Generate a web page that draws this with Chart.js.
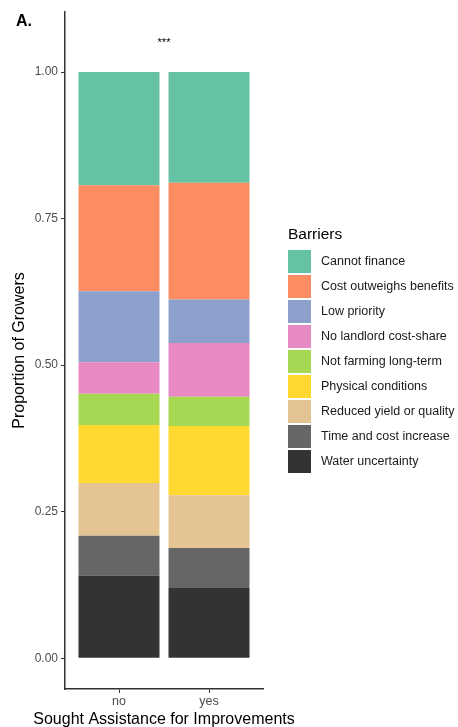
<!DOCTYPE html>
<html>
<head>
<meta charset="utf-8">
<script src="https://cdn.jsdelivr.net/npm/chart.js@4.4.1/dist/chart.umd.min.js"></script>
<style>
  html, body { margin: 0; padding: 0; background: #fff; }
  #wrap { width: 458px; height: 727px; }
</style>
</head>
<body>
<div id="wrap"><canvas id="barriersChart"></canvas></div>
<script>
// categories on the x axis
const groups = ['no', 'yes'];
const xTitle = 'Sought Assistance for Improvements';

// barriers, top of the stack first (legend order)
const barriers = [
    'Cannot finance',
    'Cost outweighs benefits',
    'Low priority',
    'No landlord cost-share',
    'Not farming long-term',
    'Physical conditions',
    'Reduced yield or quality',
    'Time and cost increase',
    'Water uncertainty'
];

// proportion of growers per barrier, for "no" and "yes"
const propNo  = [0.193, 0.181, 0.121, 0.054, 0.053, 0.099, 0.090, 0.068, 0.141];
const propYes = [0.189, 0.199, 0.074, 0.092, 0.050, 0.118, 0.090, 0.068, 0.120];

const barrierColors = ['#66C2A5', '#FC8D62', '#8DA0CB', '#E78AC3', '#A6D854',
                       '#FFD92F', '#E5C494', '#666666', '#333333'];

const yTicks = [0, 0.25, 0.50, 0.75, 1.00];
const signif = { label: '***', x: 1.5, y: 1.05 };

const FONT = '"Liberation Sans", Arial, sans-serif';

// stack bottom-up: last barrier sits at the bottom
const datasets = barriers.map((name, i) => ({
    label: name,
    data: [{ x: 1, y: propNo[i] }, { x: 2, y: propYes[i] }],
    backgroundColor: barrierColors[i],
    borderWidth: 0
})).reverse();

// "A." tag, x title (not clipped to the axis width), stars and the legend
const extras = {
    id: 'extras',
    afterDraw(chart) {
        const ctx = chart.ctx;
        const xs = chart.scales.x, ys = chart.scales.y;
        ctx.save();

        ctx.fillStyle = '#000';
        ctx.font = 'bold 16px ' + FONT;
        ctx.textAlign = 'left';
        ctx.textBaseline = 'middle';
        ctx.fillText('A.', 16, 22);

        ctx.textAlign = 'center';
        ctx.font = '16px ' + FONT;
        ctx.fillText(xTitle, (xs.left + xs.right) / 2, 720);

        ctx.font = '11px ' + FONT;
        ctx.fillText(signif.label, xs.getPixelForValue(signif.x), ys.getPixelForValue(signif.y));

        // legend
        const lx = 288, ly = 250, box = 23, step = 25;
        ctx.textAlign = 'left';
        ctx.fillStyle = '#000';
        ctx.font = '15.5px ' + FONT;
        ctx.fillText('Barriers', lx, 235);
        ctx.font = '12.5px ' + FONT;
        barriers.forEach((name, i) => {
            const y = ly + i * step;
            ctx.fillStyle = barrierColors[i];
            ctx.fillRect(lx, y, box, box);
            ctx.fillStyle = '#1a1a1a';
            ctx.fillText(name, lx + 33, y + box / 2);
        });
        ctx.restore();
    }
};

new Chart(document.getElementById('barriersChart'), {
    type: 'bar',
    data: { datasets },
    options: {
        responsive: true,
        maintainAspectRatio: false,
        animation: false,
        layout: { padding: { top: 12, right: 195, bottom: 0, left: 0 } },
        datasets: { bar: { categoryPercentage: 0.9, barPercentage: 1 } },
        plugins: { legend: { display: false }, tooltip: { enabled: false } },
        scales: {
            x: {
                type: 'linear',
                stacked: true,
                min: 0.4,
                max: 2.6,
                offset: false,
                afterBuildTicks: s => { s.ticks = groups.map((g, i) => ({ value: i + 1 })); },
                afterFit: s => { s.height = 38; },
                ticks: {
                    callback: v => groups[v - 1],
                    color: '#4d4d4d',
                    font: { family: FONT, size: 12.5 },
                    padding: 1,
                    maxRotation: 0
                },
                grid: { display: true, offset: false, drawOnChartArea: false, tickLength: 4, tickColor: '#333', tickWidth: 1 },
                border: { display: true, color: '#333', width: 1.5 }
            },
            y: {
                stacked: true,
                min: -0.0525,
                max: 1.1025,
                afterBuildTicks: s => { s.ticks = yTicks.map(v => ({ value: v })); },
                afterFit: s => { s.width = 65; },
                ticks: {
                    callback: v => v.toFixed(2),
                    color: '#4d4d4d',
                    font: { family: FONT, size: 12 },
                    padding: 3
                },
                grid: { display: true, offset: false, drawOnChartArea: false, tickLength: 4, tickColor: '#333', tickWidth: 1 },
                border: { display: true, color: '#333', width: 1.5 },
                title: {
                    display: true,
                    text: 'Proportion of Growers',
                    color: '#000',
                    font: { family: FONT, size: 16 },
                    padding: { top: 10, bottom: 0 }
                }
            }
        }
    },
    plugins: [extras]
});
</script>
</body>
</html>
